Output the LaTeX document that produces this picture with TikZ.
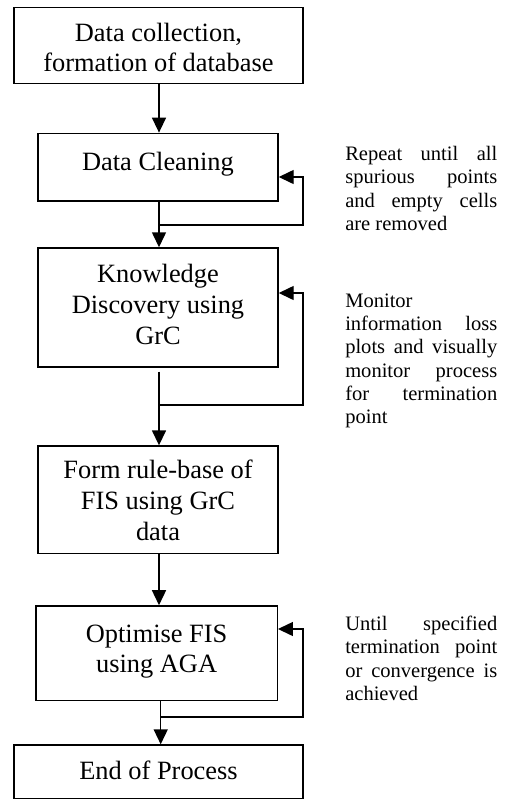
\documentclass[tikz,border=0pt]{standalone}
\usepackage{fontspec}
\setmainfont{Liberation Serif}
\usetikzlibrary{arrows.meta}

\begin{document}
\begin{tikzpicture}[x=0.75pt,y=-0.75pt,
  stepbox/.style={draw, line width=1.1pt, inner sep=0pt, align=center,
    font=\fontsize{19.8}{22.9}\selectfont, text depth=4.5pt},
  note/.style={inner sep=0pt, anchor=base west, align=left,
    font=\fontsize{15.4}{17.4}\selectfont},
  flow/.style={line width=1.1pt, -{Triangle[length=11.25pt,width=10.5pt]}},
  loop/.style={line width=1.1pt}]

\useasboundingbox (0,0) rectangle (506,800);

% process steps (text height places the lines inside each box)
\node[stepbox, minimum width=289*0.75pt, minimum height=76*0.75pt,
      text height=58.8*0.75pt] (b1) at (158.5,45.3)
  {Data collection,\\formation of database};
\node[stepbox, minimum width=240*0.75pt, minimum height=67.7*0.75pt,
      text height=11.6*0.75pt] (b2) at (158,167.2)
  {Data Cleaning};
\node[stepbox, minimum width=240*0.75pt, minimum height=119*0.75pt,
      text height=79*0.75pt] (b3) at (158,307.5)
  {Knowledge\\Discovery using\\GrC};
\node[stepbox, minimum width=240*0.75pt, minimum height=107.3*0.75pt,
      text height=86.6*0.75pt] (b4) at (158,499.7)
  {Form rule-base of\\FIS using GrC\\data};
\node[stepbox, minimum width=241.3*0.75pt, minimum height=94.5*0.75pt,
      text height=45.4*0.75pt] (b5) at (156.6,653.2)
  {Optimise FIS\\using AGA};
\node[stepbox, minimum width=289*0.75pt, minimum height=53.3*0.75pt,
      text height=22*0.75pt] (b6) at (158.5,771.7)
  {End of Process};

% corner points of the feedback loops
\coordinate (j1) at (159,225);
\coordinate (r1) at (303,177);
\coordinate (j2) at (159,405);
\coordinate (r2) at (303,293);
\coordinate (j3) at (160.7,717);
\coordinate (r3) at (303,629);

% main flow
\draw[flow] (b1.south -| j1) -- (b2.north -| j1);
\draw[flow] (b2.south -| j1) -- (b3.north -| j1);
\draw[flow, shorten <=3pt] (b3.south -| j2) -- (b4.north -| j2);
\draw[flow] (b4.south -| j2) -- (b5.north -| j2);
\draw[flow] (b5.south -| j3) -- (b6.north -| j3);

% feedback loops
\draw[flow] (j1) -| (r1) -- (b2.east |- r1);
\draw[flow] (j2) -| (r2) -- (b3.east |- r2);
\draw[flow] (j3) -| (r3) -- (b5.east |- r3);

% annotations (anchored at the baseline of the last line)
\node[note] (n1) at (345,230.3)
  {\makebox[114pt][s]{Repeat until all}\\
   \makebox[114pt][s]{spurious points}\\
   \makebox[114pt][s]{and empty cells}\\
   are removed};
\node[note] (n2) at (345,423.5)
  {Monitor\\
   \makebox[114pt][s]{information loss}\\
   \makebox[114pt][s]{plots and visually}\\
   \makebox[114pt][s]{monitor process}\\
   \makebox[114pt][s]{for termination}\\
   point};
\node[note] (n3) at (345,700.3)
  {\makebox[114pt][s]{Until specified}\\
   \makebox[114pt][s]{termination point}\\
   \makebox[114pt][s]{or convergence is}\\
   achieved};
\end{tikzpicture}
\end{document}
